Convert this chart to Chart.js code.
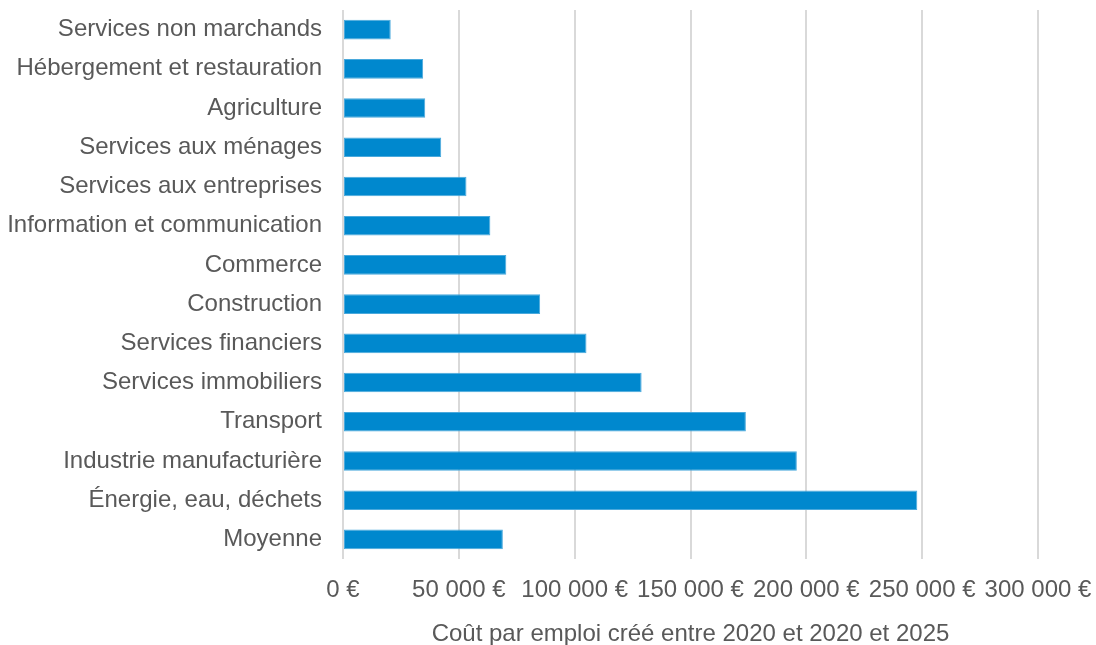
<!DOCTYPE html>
<html>
<head>
<meta charset="utf-8">
<script src="https://cdn.jsdelivr.net/npm/chart.js@4"></script>
<style>
  html, body { margin: 0; padding: 0; background: #fff; }
  #wrap { width: 1096px; height: 645px; }
</style>
</head>
<body>
<div id="wrap"><canvas id="coutChart" width="1096" height="645"></canvas></div>
<script>
// Secteurs (de haut en bas)
const secteurs = [
  "Services non marchands",
  "Hébergement et restauration",
  "Agriculture",
  "Services aux ménages",
  "Services aux entreprises",
  "Information et communication",
  "Commerce",
  "Construction",
  "Services financiers",
  "Services immobiliers",
  "Transport",
  "Industrie manufacturière",
  "Énergie, eau, déchets",
  "Moyenne"
];

// Coût par emploi créé (€)
const coutParEmploi = [
  20600, 34600, 35500, 42400, 53300, 63600, 70500,
  85100, 105100, 128900, 173900, 195900, 247900, 69000
];

const xMin = 0;
const xMax = 300000;
const xStep = 50000;
const titreAxe = "Coût par emploi créé entre 2020 et 2020 et 2025";

const gris = "#595959";
const police = "'Liberation Sans', Arial, sans-serif";

function formatEuro(v) {
  return v.toString().replace(/\B(?=(\d{3})+(?!\d))/g, " ") + " €";
}

let ctx = document.getElementById("coutChart").getContext("2d");
const coutChart = new Chart(ctx, {
  type: "bar",
  data: {
    labels: secteurs,
    datasets: [
      {
        data: coutParEmploi,
        backgroundColor: "#0088ce",
        borderColor: "#4aa9dc",
        borderWidth: 1,
        borderSkipped: false,
        categoryPercentage: 1,
        barPercentage: 0.5,
      },
    ],
  },
  options: {
    indexAxis: "y",
    responsive: false,
    animation: false,
    layout: { padding: { top: 10, right: 58, bottom: 0, left: 0 } },
    plugins: {
      legend: { display: false },
      tooltip: { enabled: false },
    },
    scales: {
      x: {
        min: xMin,
        max: xMax,
        ticks: {
          stepSize: xStep,
          color: gris,
          font: { family: police, size: 24 },
          padding: 17,
          maxRotation: 0,
          autoSkip: false,
          callback: (v) => formatEuro(v),
        },
        grid: { color: "#d9d9d9", lineWidth: 2, drawTicks: false },
        border: { display: false },
        title: {
          display: true,
          text: titreAxe,
          color: gris,
          font: { family: police, size: 24 },
          padding: { top: 10, bottom: -4 },
        },
        afterFit: (scale) => {
          scale.height = 86;
          scale.paddingLeft = 0;
          scale.paddingRight = 0;
        },
      },
      y: {
        ticks: {
          color: gris,
          font: { family: police, size: 24 },
          padding: 21,
          autoSkip: false,
        },
        grid: { display: false, drawTicks: false },
        border: { display: false },
        afterFit: (scale) => {
          scale.width = 343;
          scale.paddingTop = 0;
          scale.paddingBottom = 0;
        },
      },
    },
  },
});
</script>
</body>
</html>
